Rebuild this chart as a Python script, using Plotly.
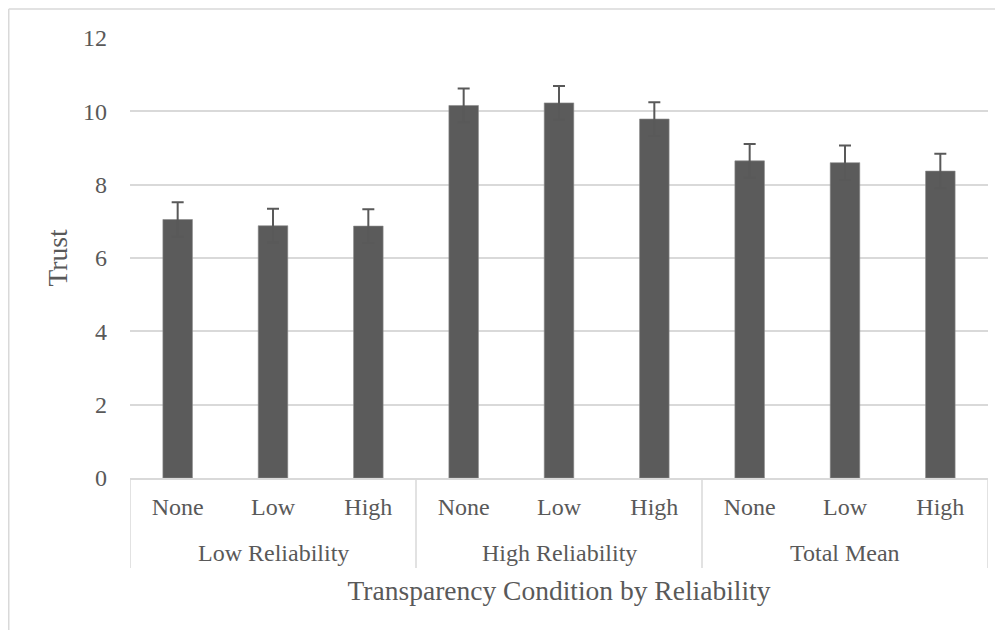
import plotly.graph_objects as go

groups = ["Low Reliability", "High Reliability", "Total Mean"]
conditions = ["None", "Low", "High"]
trust = [7.05, 6.88, 6.87, 10.16, 10.23, 9.79, 8.65, 8.60, 8.37]
err = [0.47, 0.46, 0.46, 0.46, 0.46, 0.46, 0.46, 0.47, 0.47]
yticks = [0, 2, 4, 6, 8, 10, 12]

n_per = len(conditions)
xpos = list(range(len(groups) * n_per))
xlabels = [c for _ in groups for c in conditions]

W, H = 1003, 630
# plot area in figure pixels (page adds an 8px offset)
L, R, T, B = 122, 980, 29.7, 469.7
FONT = "Liberation Serif"
TXT = "#595959"
GRID = "#d9d9d9"

fig = go.Figure()
fig.add_trace(go.Bar(
    x=xpos, y=trust,
    width=0.31,
    marker=dict(color="#5b5b5b", line=dict(color="#8a8a8a", width=0.6)),
    error_y=dict(type="data", array=err, visible=True, color="#595959",
                 thickness=2, width=6),
))

def px_x(p):
    return (p - L) / (R - L)

def px_y(p):
    return (B - p) / (B - T)

shapes = [
    dict(type="line", xref="paper", yref="paper",
         x0=px_x(0.75), x1=px_x(1010), y0=px_y(0.75), y1=px_y(0.75),
         line=dict(color=GRID, width=1.5)),
    dict(type="line", xref="paper", yref="paper",
         x0=px_x(0.75), x1=px_x(0.75), y0=px_y(0.75), y1=px_y(640),
         line=dict(color=GRID, width=1.5)),
]
# group dividers
for k in range(len(groups) + 1):
    xd = k * n_per - 0.5
    shapes.append(dict(type="line", xref="x", yref="paper",
                       x0=xd, x1=xd, y0=0, y1=px_y(B + 90),
                       line=dict(color=GRID, width=1.5)))

annotations = []
for k, g in enumerate(groups):
    annotations.append(dict(text=g, xref="x", yref="paper",
                            x=k * n_per + (n_per - 1) / 2, y=px_y(B + 75),
                            showarrow=False, yanchor="middle", xanchor="center",
                            font=dict(family=FONT, size=24, color=TXT)))

fig.update_layout(
    width=W, height=H,
    margin=dict(l=L, r=W - R, t=T, b=H - B),
    paper_bgcolor="white", plot_bgcolor="white",
    font=dict(family=FONT, color=TXT, size=24),
    showlegend=False,
    xaxis=dict(
        range=[-0.5, len(xpos) - 0.5],
        tickvals=xpos, ticktext=xlabels,
        showline=True, linecolor=GRID, linewidth=1.5,
        tickfont=dict(family=FONT, size=24, color=TXT),
        ticks="", showgrid=False, zeroline=False,
        ticklabelstandoff=6,
        title=dict(text="Transparency Condition by Reliability",
                   font=dict(family=FONT, size=27.5, color=TXT), standoff=62),
    ),
    yaxis=dict(
        range=[0, 12], tickvals=yticks,
        showgrid=True, gridcolor=GRID, gridwidth=1.5,
        zeroline=False, showline=False, ticks="",
        tickfont=dict(family=FONT, size=24, color=TXT),
        ticklabelstandoff=22,
        title=dict(text="Trust", font=dict(family=FONT, size=27.5, color=TXT), standoff=7),
    ),
    shapes=shapes,
    annotations=annotations,
)

fig.write_html("out.html")
